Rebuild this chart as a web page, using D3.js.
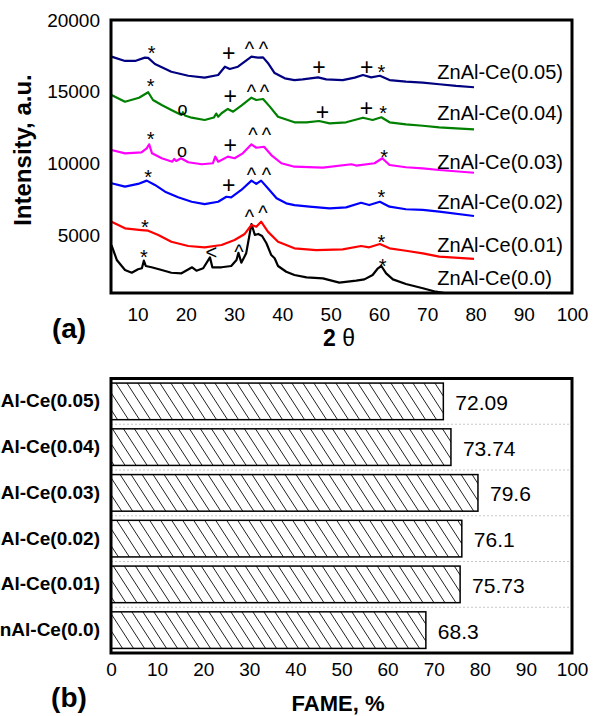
<!DOCTYPE html>
<html>
<head>
<meta charset="utf-8">
<script src="https://cdn.jsdelivr.net/npm/d3@7"></script>
<style>
  body { margin: 0; background: #fff; }
  svg text { font-family: "Liberation Sans", Arial, sans-serif; fill: #000; }
</style>
</head>
<body>
<svg id="chart" width="593" height="716"></svg>
<script>
// ---- data ----
// XRD patterns, [2theta, intensity a.u.]
const xrd_000 = [[4.6,4340],[5.7,3300],[7.4,2600],[8.8,2410],[10.1,2650],[10.9,2720],[11.3,3250],[11.7,2880],[12.9,2790],[15.0,2600],[17.0,2410],[19.1,2370],[21.3,2790],[22.2,2550],[23.6,2720],[25.0,3480],[25.5,2790],[27.4,2790],[29.4,2880],[30.5,3300],[30.9,3800],[31.5,3110],[32.5,3760],[33.6,5800],[34.3,5040],[35.0,5110],[35.8,4970],[36.7,4460],[37.7,3640],[38.4,3420],[39.1,2880],[40.8,2480],[42.5,2250],[45.0,2090],[48.4,2020],[51.8,1720],[55.3,1860],[57.0,1950],[58.7,2250],[59.8,2720],[60.5,2880],[61.5,2370],[62.9,1950],[65.6,1630],[69.1,1330],[71.8,1090],[73.9,980],[76.0,790],[80.0,650]];
const xrd_001 = [[4.6,5960],[7.4,5500],[10.8,5380],[12.2,5340],[14.3,5040],[17.0,4570],[20.5,4270],[23.9,4180],[27.4,4340],[30.1,4690],[32.2,5110],[33.6,5730],[34.6,5610],[35.6,5960],[37.0,5270],[39.1,4570],[42.5,4110],[47.0,3990],[52.5,4040],[56.3,4270],[58.0,4180],[60.2,4410],[62.2,4110],[65.6,3940],[69.1,3760],[72.5,3530],[79.7,3370]];
const xrd_002 = [[4.6,8640],[7.4,8400],[10.1,8590],[11.9,8820],[13.6,8520],[15.7,8050],[18.4,7660],[21.2,7350],[23.9,7190],[26.7,7350],[28.4,7700],[29.4,7660],[31.5,8170],[33.6,8820],[34.6,8590],[35.6,8820],[37.0,8290],[38.8,7590],[40.8,7240],[42.5,7120],[45.6,7010],[49.8,6890],[53.2,6960],[56.3,7280],[58.0,7120],[60.2,7350],[62.2,7010],[65.6,6830],[69.1,6780],[72.5,6660],[79.7,6360]];
const xrd_003 = [[4.6,10950],[7.4,10720],[10.8,10790],[11.9,11070],[12.4,11350],[13.0,10720],[15.0,10380],[17.2,10140],[17.6,10330],[18.0,10190],[19.0,10380],[20.5,10100],[23.3,9960],[25.6,10030],[26.1,10490],[26.7,10140],[28.7,10490],[30.1,10380],[31.8,10720],[33.6,11350],[34.6,11110],[36.2,11180],[37.7,10600],[39.8,10030],[42.5,9790],[48.4,9720],[54.3,9960],[55.3,9870],[59.1,10030],[60.7,10380],[62.2,9910],[65.6,9750],[69.1,9680],[72.5,9560],[79.7,9370]];
const xrd_004 = [[4.6,14780],[7.4,14310],[10.3,14590],[12.2,14970],[13.2,14430],[15.0,14080],[17.0,13740],[19.1,13390],[19.4,13580],[19.8,13350],[21.2,13200],[23.9,13040],[25.8,13210],[26.3,13490],[26.7,13270],[27.4,13510],[28.7,13810],[29.8,13620],[31.5,14040],[33.6,14590],[34.6,14430],[36.0,14500],[37.4,13970],[39.1,13270],[42.5,12880],[45.0,12880],[47.6,12970],[49.8,12810],[53.2,12880],[56.7,13200],[58.7,13040],[60.5,13230],[62.2,12880],[65.6,12740],[69.1,12640],[72.5,12530],[76.0,12460],[79.7,12390]];
const xrd_005 = [[4.6,17450],[7.4,17150],[9.5,17150],[11.5,17380],[12.2,17360],[13.6,16940],[17.0,16400],[20.5,16120],[23.9,15990],[26.7,16170],[28.1,16750],[29.1,16590],[30.8,16750],[32.2,17100],[33.6,17450],[35.0,17380],[36.0,17400],[37.0,17010],[38.4,16310],[40.5,15940],[42.5,15820],[44.2,15870],[47.4,16010],[49.1,15870],[52.5,15820],[55.0,15990],[56.7,16170],[58.4,16010],[60.2,16120],[62.2,15820],[65.6,15710],[69.1,15640],[72.5,15530],[76.0,15410],[79.7,15320]];

const xrdNames  = ['ZnAl-Ce(0.0)', 'ZnAl-Ce(0.01)', 'ZnAl-Ce(0.02)', 'ZnAl-Ce(0.03)', 'ZnAl-Ce(0.04)', 'ZnAl-Ce(0.05)'];
const xrdSeries = [xrd_000, xrd_001, xrd_002, xrd_003, xrd_004, xrd_005];
const xrdColors = ['#000000', '#ff0000', '#0000ff', '#ff00ff', '#008000', '#000080'];
// where the sample name sits (intensity value at the label centre)
const xrdLabelY = [2040, 4340, 7330, 10120, 13530, 16380];

// phase markers [2theta, intensity, symbol]
const peakMarks = [
  [12.9,17980,'*'],[28.9,17680,'+'],[33.2,18260,'^'],[36.1,18260,'^'],[47.6,16750,'+'],[57.5,16750,'+'],[60.5,16640,'*'],
  [12.7,15710,'*'],[19.3,13740,'o'],[29.2,14710,'+'],[33.6,15250,'^'],[36.3,15250,'^'],[48.3,13580,'+'],[57.4,13860,'+'],[60.9,13810,'*'],
  [12.7,12000,'*'],[19.2,10830,'o'],[29.2,11300,'+'],[33.9,12230,'^'],[36.7,12230,'^'],[61.1,10720,'*'],
  [12.2,9330,'*'],[28.9,8520,'+'],[33.6,9440,'^'],[36.7,9440,'^'],[60.5,7940,'*'],
  [11.5,5890,'*'],[33.2,6550,'^'],[36.0,6830,'^'],[60.5,4810,'*'],
  [11.3,3760,'*'],[25.3,3870,'<'],[31.0,4110,'^'],[60.8,3180,'*']
];

// FAME yield, top to bottom
const catalysts = ['ZnAl-Ce(0.05)', 'ZnAl-Ce(0.04)', 'ZnAl-Ce(0.03)', 'ZnAl-Ce(0.02)', 'ZnAl-Ce(0.01)', 'ZnAl-Ce(0.0)'];
const fame      = [72.09, 73.74, 79.6, 76.1, 75.73, 68.3];

const xTicksA = d3.range(10, 101, 10);
const yTicksA = [5000, 10000, 15000, 20000];
const xTicksB = d3.range(0, 101, 10);

// ---- layout ----
const svg = d3.select('#chart');
const panelA = {left: 111, right: 572, top: 20, bottom: 293};
const panelB = {left: 111, right: 572, top: 378.5, bottom: 653};

// ---------- panel (a): XRD ----------
const xA = d3.scaleLinear().domain([4.5, 100]).range([panelA.left, panelA.right]);
const yA = d3.scaleLinear().domain([1000, 20000]).range([panelA.bottom, panelA.top]);

svg.append('defs').append('clipPath')
    .attr('id', 'clipA')
  .append('rect')
    .attr('x', panelA.left).attr('y', panelA.top)
    .attr('width', panelA.right - panelA.left)
    .attr('height', panelA.bottom - panelA.top);

const line = d3.line().x(d => xA(d[0])).y(d => yA(d[1]));

svg.append('g').attr('clip-path', 'url(#clipA)')
  .selectAll('path.xrd')
  .data(xrdSeries)
  .join('path')
    .attr('class', 'xrd')
    .attr('d', line)
    .attr('fill', 'none')
    .attr('stroke', (d, i) => xrdColors[i])
    .attr('stroke-width', 2.2)
    .attr('stroke-linejoin', 'round');

// marker glyphs: size and how far the baseline sits below the glyph centre
const glyph = {
  '*': {size: 20, off: 0.55},
  '+': {size: 23, off: 0.34},
  '^': {size: 20, off: 0.53},
  'o': {size: 18, off: 0.27},
  '<': {size: 20, off: 0.35}
};
svg.append('g').selectAll('text')
  .data(peakMarks)
  .join('text')
    .attr('x', d => xA(d[0]))
    .attr('y', d => yA(d[1]) + glyph[d[2]].off * glyph[d[2]].size)
    .attr('text-anchor', 'middle')
    .style('font-size', d => glyph[d[2]].size + 'px')
    .text(d => d[2]);

svg.append('g').selectAll('text')
  .data(xrdNames)
  .join('text')
    .attr('x', xA(72.1))
    .attr('y', (d, i) => yA(xrdLabelY[i]))
    .attr('dy', '0.35em')
    .style('font-size', '20px')
    .text(d => d);

const xAxisA = svg.append('g')
    .attr('transform', `translate(0,${panelA.bottom})`)
    .call(d3.axisBottom(xA).tickValues(xTicksA).tickSize(0).tickPadding(14.5));
const yAxisA = svg.append('g')
    .attr('transform', `translate(${panelA.left},0)`)
    .call(d3.axisLeft(yA).tickValues(yTicksA).tickFormat(d3.format('d')).tickSize(0).tickPadding(11));
[xAxisA, yAxisA].forEach(g => {
  g.select('.domain').remove();
  g.selectAll('text').style('font-size', '19px').style('font-family', '"Liberation Sans", Arial, sans-serif');
});

svg.append('rect')
    .attr('x', panelA.left).attr('y', panelA.top)
    .attr('width', panelA.right - panelA.left)
    .attr('height', panelA.bottom - panelA.top)
    .attr('fill', 'none').attr('stroke', '#000').attr('stroke-width', 3);

svg.append('text')
    .attr('transform', `translate(31,150) rotate(-90)`)
    .attr('text-anchor', 'middle')
    .style('font-size', '24px').style('font-weight', 'bold')
    .text('Intensity, a.u.');

const tLabel = svg.append('text')
    .attr('x', 339).attr('y', 346)
    .attr('text-anchor', 'middle')
    .style('font-size', '23px');
tLabel.append('tspan').style('font-weight', 'bold').text('2');
tLabel.append('tspan').text(' θ');

svg.append('text')
    .attr('x', 69).attr('y', 338)
    .attr('text-anchor', 'middle')
    .style('font-size', '28px').style('font-weight', 'bold')
    .text('(a)');

// ---------- panel (b): FAME bars ----------
const xB = d3.scaleLinear().domain([0, 100]).range([panelB.left, panelB.right]);
const yB = d3.scaleBand().domain(catalysts)
    .range([panelB.top, panelB.bottom])
    .paddingInner(0.2).paddingOuter(0.1);

const hatch = svg.select('defs').append('pattern')
    .attr('id', 'hatch')
    .attr('patternUnits', 'userSpaceOnUse')
    .attr('width', 11).attr('height', 17);
hatch.append('rect').attr('width', 11).attr('height', 17).attr('fill', '#fff');
hatch.append('path')
    .attr('d', 'M0,0 L11,17 M-11,0 L0,17 M11,0 L22,17')
    .attr('stroke', '#222').attr('stroke-width', 1);

// dotted category gridlines between bars
const step = yB.step();
svg.append('g').selectAll('line')
  .data(catalysts.slice(0, -1))
  .join('line')
    .attr('x1', panelB.left).attr('x2', panelB.right)
    .attr('y1', d => yB(d) + yB.bandwidth() + step * 0.1)
    .attr('y2', d => yB(d) + yB.bandwidth() + step * 0.1)
    .attr('stroke', '#c8c8c8').attr('stroke-width', 1)
    .attr('stroke-dasharray', '2,2');

svg.append('g').selectAll('rect')
  .data(catalysts)
  .join('rect')
    .attr('x', xB(0))
    .attr('y', d => yB(d))
    .attr('width', (d, i) => xB(fame[i]) - xB(0))
    .attr('height', yB.bandwidth())
    .attr('fill', 'url(#hatch)')
    .attr('stroke', '#000').attr('stroke-width', 1.5);

svg.append('g').selectAll('text')
  .data(catalysts)
  .join('text')
    .attr('x', (d, i) => xB(fame[i]) + 12)
    .attr('y', d => yB(d) + yB.bandwidth() / 2)
    .attr('dy', '0.4em')
    .style('font-size', '21px')
    .text((d, i) => String(fame[i]));

const xAxisB = svg.append('g')
    .attr('transform', `translate(0,${panelB.bottom})`)
    .call(d3.axisBottom(xB).tickValues(xTicksB).tickSize(0).tickPadding(9.5));
const yAxisB = svg.append('g')
    .attr('transform', `translate(${panelB.left},0)`)
    .call(d3.axisLeft(yB).tickSize(0).tickPadding(11));
[xAxisB, yAxisB].forEach(g => {
  g.select('.domain').remove();
  g.selectAll('text').style('font-size', '19px').style('font-family', '"Liberation Sans", Arial, sans-serif');
});
yAxisB.selectAll('text').style('font-weight', 'bold');

svg.append('rect')
    .attr('x', panelB.left).attr('y', panelB.top)
    .attr('width', panelB.right - panelB.left)
    .attr('height', panelB.bottom - panelB.top)
    .attr('fill', 'none').attr('stroke', '#000').attr('stroke-width', 3);

svg.append('text')
    .attr('x', 338).attr('y', 711)
    .attr('text-anchor', 'middle')
    .style('font-size', '22px').style('font-weight', 'bold')
    .text('FAME, %');

svg.append('text')
    .attr('x', 69).attr('y', 707)
    .attr('text-anchor', 'middle')
    .style('font-size', '28px').style('font-weight', 'bold')
    .text('(b)');
</script>
</body>
</html>
